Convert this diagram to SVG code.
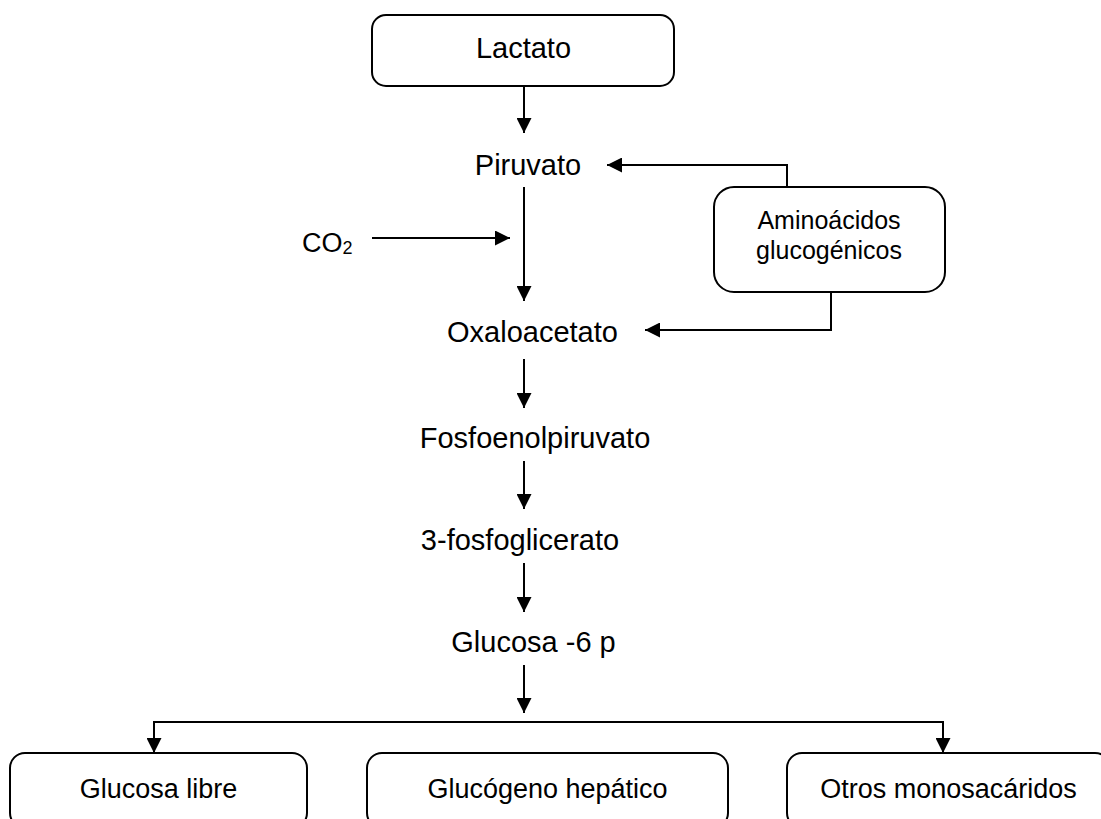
<svg xmlns="http://www.w3.org/2000/svg" width="1101" height="819" viewBox="0 0 1101 819">
<style>
.box{fill:#fff;stroke:#000;stroke-width:2}
.t{font-family:"Liberation Sans",Arial,sans-serif;font-size:29px;fill:#000;text-anchor:middle}
.s{font-size:27px}
.a{font-size:25px}
.c{stroke:#000;stroke-width:2;fill:none}
</style>
<defs>
<marker id="ah" markerUnits="userSpaceOnUse" markerWidth="15" markerHeight="15" refX="15" refY="7.5" orient="auto" viewBox="0 0 15 15">
<path d="M0,0 L15,7.5 L0,15 z" fill="#000"/>
</marker>
</defs>
<rect width="1101" height="819" fill="#fff"/>
<g id="connectors">
<line class="c" x1="524" y1="86" x2="524" y2="133" marker-end="url(#ah)"/>
<line class="c" x1="524" y1="187" x2="524" y2="301" marker-end="url(#ah)"/>
<line class="c" x1="372" y1="238" x2="510" y2="238" marker-end="url(#ah)"/>
<polyline class="c" points="787,187 787,165 607,165" marker-end="url(#ah)"/>
<polyline class="c" points="831,292 831,330 645,330" marker-end="url(#ah)"/>
<line class="c" x1="524" y1="359" x2="524" y2="408" marker-end="url(#ah)"/>
<line class="c" x1="524" y1="461" x2="524" y2="509" marker-end="url(#ah)"/>
<line class="c" x1="524" y1="563" x2="524" y2="612" marker-end="url(#ah)"/>
<line class="c" x1="524" y1="665" x2="524" y2="713" marker-end="url(#ah)"/>
<line class="c" x1="154" y1="722" x2="944" y2="722"/>
<line class="c" x1="154" y1="721" x2="154" y2="753" marker-end="url(#ah)"/>
<line class="c" x1="943" y1="721" x2="943" y2="753" marker-end="url(#ah)"/>
</g>
<g id="lactato">
<rect class="box" x="372" y="15" width="302" height="71" rx="14"/>
<text class="t" x="523.5" y="58">Lactato</text>
</g>
<g id="piruvato"><text class="t" x="528" y="175">Piruvato</text></g>
<g id="co2"><text class="t" x="302" y="252" style="text-anchor:start;font-size:27px">CO<tspan font-size="18" dy="2">2</tspan></text></g>
<g id="aminoacidos">
<rect class="box" x="714" y="187" width="231" height="105" rx="20"/>
<text class="t a" x="829" y="229">Aminoácidos</text>
<text class="t a" x="829" y="259">glucogénicos</text>
</g>
<g id="oxaloacetato"><text class="t" x="532.5" y="342">Oxaloacetato</text></g>
<g id="fosfoenolpiruvato"><text class="t" x="535" y="448">Fosfoenolpiruvato</text></g>
<g id="fosfoglicerato"><text class="t" x="520" y="550">3-fosfoglicerato</text></g>
<g id="glucosa6p"><text class="t" x="533.5" y="652">Glucosa -6 p</text></g>
<g id="glucosa-libre">
<rect class="box" x="10" y="753" width="297" height="75" rx="15"/>
<text class="t s" x="158.5" y="798">Glucosa libre</text>
</g>
<g id="glucogeno">
<rect class="box" x="367" y="753" width="361" height="75" rx="15"/>
<text class="t s" x="547.5" y="798">Glucógeno hepático</text>
</g>
<g id="otros">
<rect class="box" x="787" y="753" width="323" height="75" rx="15"/>
<text class="t s" x="948.5" y="798">Otros monosacáridos</text>
</g>
</svg>
